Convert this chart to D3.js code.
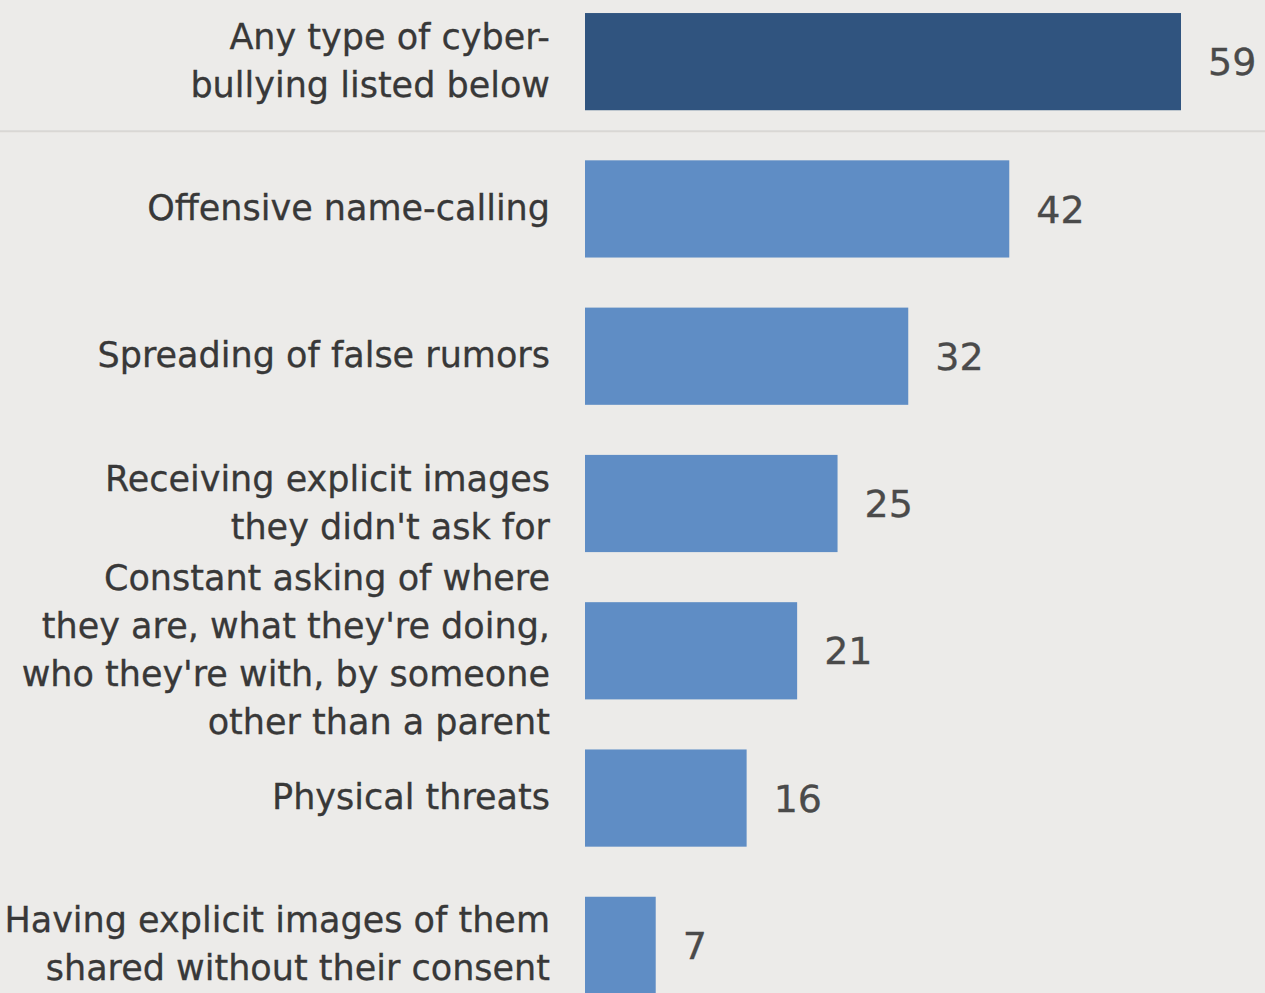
<!DOCTYPE html>
<html>
<head>
<meta charset="utf-8">
<script src="https://cdn.jsdelivr.net/npm/d3@7"></script>
<style>
  html, body { margin: 0; padding: 0; background: #ecebe9; }
  svg { display: block; }
</style>
</head>
<body>
<svg id="chart" width="1265" height="993"></svg>
<script>
// Share of teens who have experienced each form of online harassment (%)
const categories = [
  "Any type of cyber-bullying listed below",
  "Offensive name-calling",
  "Spreading of false rumors",
  "Receiving explicit images they didn't ask for",
  "Constant asking of where they are, what they're doing, who they're with, by someone other than a parent",
  "Physical threats",
  "Having explicit images of them shared without their consent"
];
const labelLines = [
  ["Any type of cyber-", "bullying listed below"],
  ["Offensive name-calling"],
  ["Spreading of false rumors"],
  ["Receiving explicit images", "they didn't ask for"],
  ["Constant asking of where", "they are, what they're doing,", "who they're with, by someone", "other than a parent"],
  ["Physical threats"],
  ["Having explicit images of them", "shared without their consent"]
];
const values = [59, 42, 32, 25, 21, 16, 7];

const svg = d3.select("#chart");
const W = 1265, H = 993;

const x = d3.scaleLinear().domain([0, 59]).range([585, 1181]);
const y = d3.scaleBand()
  .domain(categories)
  .range([-12, 1019])
  .paddingInner(0.34)
  .paddingOuter(0.17);

const rows = categories.map((c, i) => ({ cat: c, lines: labelLines[i], value: values[i], i }));

// divider under the summary row
const divY = (y(categories[0]) + y.bandwidth() + y(categories[1])) / 2 - 4;
svg.append("line")
  .attr("x1", 0).attr("x2", W)
  .attr("y1", divY).attr("y2", divY)
  .attr("stroke", "#d9d7d4")
  .attr("stroke-width", 2);

// bars
svg.append("g").selectAll("rect")
  .data(rows).join("rect")
  .attr("x", x(0))
  .attr("y", d => y(d.cat))
  .attr("width", d => x(d.value) - x(0))
  .attr("height", y.bandwidth())
  .attr("fill", d => d.i === 0 ? "#30547f" : "#5f8dc5");

// value labels
svg.append("g").selectAll("text")
  .data(rows).join("text")
  .attr("x", d => x(d.value) + 27)
  .attr("y", d => y(d.cat) + y.bandwidth() / 2)
  .attr("dy", "0.36em")
  .attr("font-family", "DejaVu Sans, sans-serif")
  .attr("font-size", 38)
  .attr("fill", "#4a4a4a")
  .attr("stroke", "#4a4a4a")
  .attr("stroke-width", 0.3)
  .text(d => d.value);

// category labels, right-aligned against the bars
const lineH = 48;
const lab = svg.append("g").selectAll("text")
  .data(rows).join("text")
  .attr("text-anchor", "end")
  .attr("font-family", "DejaVu Sans, sans-serif")
  .attr("font-size", 35)
  .attr("fill", "#383838")
  .attr("stroke", "#383838")
  .attr("stroke-width", 0.3);

lab.each(function(d) {
  const cy = y(d.cat) + y.bandwidth() / 2;
  const n = d.lines.length;
  const first = cy - (n - 1) * lineH / 2 + 11;
  d3.select(this).selectAll("tspan")
    .data(d.lines).join("tspan")
    .attr("x", 550)
    .attr("y", (t, k) => first + k * lineH)
    .text(t => t);
});
</script>
</body>
</html>
